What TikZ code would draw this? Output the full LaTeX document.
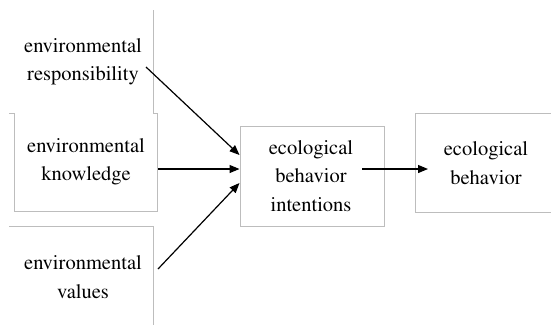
\documentclass[tikz,border=0pt]{standalone}
\usepackage[T1]{fontenc}
\usepackage{times}
\usetikzlibrary{arrows.meta,calc}
\definecolor{boxgray}{HTML}{BDBDBD}
\begin{document}
\begin{tikzpicture}[x=1pt,y=-1pt,
  lbl/.style={align=center,inner sep=0pt,font=\rmfamily\fontsize{20.5}{28.5}\selectfont},
  edge/.style={boxgray,line width=1pt},
  conn/.style={black,line width=1.2pt,-{Triangle[length=10pt,width=8pt]}}]
\useasboundingbox[fill=white] (0,0) rectangle (551,325);
% partial box outlines
\draw[edge] (153,10) -- (153,113) -- (157,113);
\draw[edge] (9,113) -- (14,113) -- (14,211) -- (157,211) -- (157,113);
\draw[edge] (9,226) -- (153,226) -- (153,325);
\draw[edge] (551,113) -- (415,113) -- (415,212) -- (551,212);
\node[edge,draw,minimum width=144pt,minimum height=100pt] (intentbox) at (312,176) {};
% labels
\node[lbl] (resp) at (83,62) {environmental\\responsibility};
\node[lbl] (know) at (86,162) {environmental\\knowledge};
\node[lbl] (vals) at (83,277) {environmental\\values};
\node[lbl] (intent) at (311,176) {ecological\\behavior\\intentions};
\node[lbl] (behav) at (486,163) {ecological\\behavior};
% connectors
\draw[conn] ($(resp)+(63,5)$) -- ($(intentbox.west)+(0,-21)$);
\draw[conn] ($(know)+(72,7)$) -- ($(intentbox.west)+(0,-7)$);
\draw[conn] ($(vals)+(75,-8)$) -- ($(intentbox.west)+(0,7)$);
\draw[conn] ($(intent)+(51,-7)$) -- ($(behav)+(-58,6)$);
\end{tikzpicture}
\end{document}
